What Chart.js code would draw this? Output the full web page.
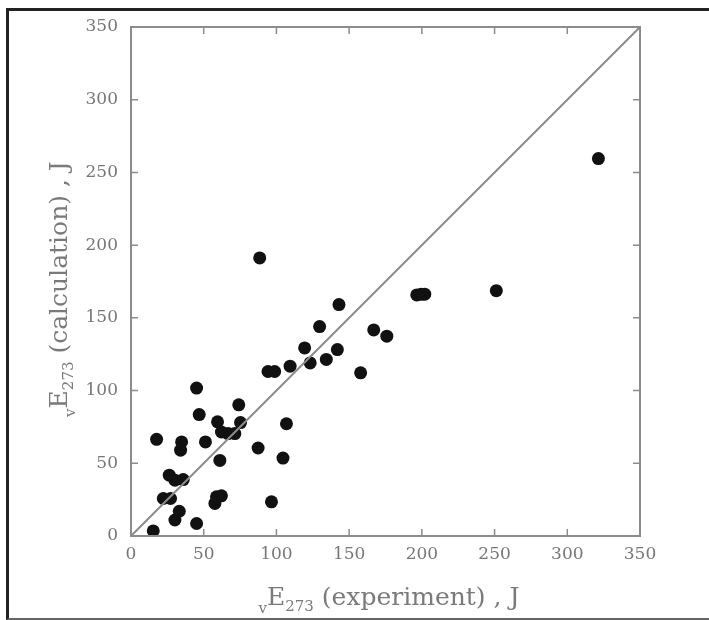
<!DOCTYPE html>
<html>
<head>
<meta charset="utf-8">
<script src="https://cdn.jsdelivr.net/npm/chart.js@4"></script>
<style>
  body { margin: 0; background: #fff; }
  #wrap { position: relative; width: 709px; height: 620px; overflow: hidden; }
  #frame { position: absolute; left: 6px; top: 8px; width: 760px; height: 607px;
           border-left: 3px solid #222; border-top: 3px solid #222; border-bottom: 2px solid #666;
           pointer-events: none; }
</style>
</head>
<body>
<div id="wrap">
  <canvas id="scatterChart" width="709" height="620"></canvas>
  <div id="frame"></div>
</div>
<script>
// measured values (experiment vs calculation), J
var expX = [15.3, 17.6, 22.2, 26.3, 27.2, 30.2, 30.2, 33.2, 34.1, 34.8, 35.9, 45.1, 45.1, 46.9, 51.2,
            57.7, 58.8, 59.5, 61.1, 62.2, 62.2, 66.8, 71.4, 74.1, 75.3, 87.4, 88.5, 94.2, 98.8, 96.6,
            104.5, 106.9, 109.4, 119.4, 123.2, 129.7, 134.3, 141.9, 143, 157.9, 166.9, 175.9,
            196.5, 199.5, 202, 251.2, 321.4];
var calcY = [3.5, 66.5, 25.8, 41.8, 25.8, 38.4, 11, 17, 59, 64.7, 38.8, 101.7, 8.6, 83.5, 64.7,
             22.4, 27, 78.5, 52, 71.5, 27.6, 70.4, 70.4, 90.2, 78, 60.5, 191.2, 113.1, 113.1, 23.5,
             53.6, 77.2, 116.8, 129.3, 119, 144, 121.4, 128.2, 159.1, 112.2, 141.7, 137.4,
             165.8, 166.2, 166.3, 168.7, 259.5];

// y = x reference line
var lineX = [0, 350];
var lineY = [0, 350];

var tickValues = [0, 50, 100, 150, 200, 250, 300, 350];

var points = expX.map(function(x, i) { return {x: x, y: calcY[i]}; });
var linePts = lineX.map(function(x, i) { return {x: x, y: lineY[i]}; });

var axisGray = '#8c8c8c';
var serif = "'DejaVu Serif', 'Liberation Serif', serif";

// box around the plot with inward ticks on all sides
var boxPlugin = {
  id: 'box',
  afterDraw: function(chart) {
    var ctx = chart.ctx, a = chart.chartArea;
    var xs = chart.scales.x, ys = chart.scales.y;
    ctx.save();
    ctx.strokeStyle = axisGray;
    ctx.lineWidth = 2;
    ctx.strokeRect(a.left, a.top, a.right - a.left, a.bottom - a.top);
    ctx.lineWidth = 1.5;
    ctx.beginPath();
    tickValues.forEach(function(v) {
      var px = xs.getPixelForValue(v);
      ctx.moveTo(px, a.bottom); ctx.lineTo(px, a.bottom - 7);
      ctx.moveTo(px, a.top); ctx.lineTo(px, a.top + 7);
      var py = ys.getPixelForValue(v);
      ctx.moveTo(a.left, py); ctx.lineTo(a.left + 7, py);
      ctx.moveTo(a.right, py); ctx.lineTo(a.right - 7, py);
    });
    ctx.stroke();
    ctx.restore();
  }
};

// axis titles with subscripts
function drawTitle(ctx, word) {
  var big = 25, small = 15;
  var parts = [
    {t: 'v', size: small, dy: 8},
    {t: 'E', size: big, dy: 0},
    {t: '273', size: small, dy: 6},
    {t: ' (' + word + ') , J', size: big, dy: 0}
  ];
  var total = 0;
  parts.forEach(function(p) {
    ctx.font = p.size + 'px ' + serif;
    p.w = ctx.measureText(p.t).width;
    total += p.w;
  });
  var x = -total / 2;
  parts.forEach(function(p) {
    ctx.font = p.size + 'px ' + serif;
    ctx.fillText(p.t, x, p.dy);
    x += p.w;
  });
}

var titlePlugin = {
  id: 'titles',
  afterDraw: function(chart) {
    var ctx = chart.ctx, a = chart.chartArea;
    ctx.save();
    ctx.fillStyle = '#7a7a7a';
    ctx.textBaseline = 'alphabetic';
    ctx.textAlign = 'left';
    ctx.translate(389, 605);
    drawTitle(ctx, 'experiment');
    ctx.restore();

    ctx.save();
    ctx.fillStyle = '#7a7a7a';
    ctx.textBaseline = 'alphabetic';
    ctx.textAlign = 'left';
    ctx.translate(67, 289);
    ctx.rotate(-Math.PI / 2);
    drawTitle(ctx, 'calculation');
    ctx.restore();
  }
};

var ctx = document.getElementById('scatterChart');

var myChart = new Chart(ctx, {
  type: 'scatter',
  data: {
    datasets: [{
      type: 'line',
      data: linePts,
      borderColor: axisGray,
      borderWidth: 2,
      pointRadius: 0,
      fill: false
    }, {
      data: points,
      backgroundColor: '#111',
      borderWidth: 0,
      pointRadius: 6.5,
      pointHoverRadius: 6.5
    }]
  },
  options: {
    responsive: false,
    animation: false,
    devicePixelRatio: 1,
    layout: { padding: { left: 0, top: 27, right: 69, bottom: 0 } },
    plugins: {
      legend: { display: false },
      tooltip: { enabled: false }
    },
    scales: {
      x: {
        type: 'linear',
        min: 0,
        max: 350,
        afterBuildTicks: function(scale) {
          scale.ticks = tickValues.map(function(v) { return {value: v}; });
        },
        afterFit: function(scale) { scale.height = 84; },
        ticks: { color: '#777', font: { family: serif, size: 17 }, padding: 8, maxRotation: 0 },
        grid: { drawOnChartArea: false, drawTicks: false },
        border: { color: axisGray, width: 2 }
      },
      y: {
        type: 'linear',
        min: 0,
        max: 350,
        afterBuildTicks: function(scale) {
          scale.ticks = tickValues.map(function(v) { return {value: v}; });
        },
        afterFit: function(scale) { scale.width = 131; },
        ticks: { color: '#777', font: { family: serif, size: 17 }, padding: 13 },
        grid: { drawOnChartArea: false, drawTicks: false },
        border: { color: axisGray, width: 2 }
      }
    }
  },
  plugins: [boxPlugin, titlePlugin]
});
</script>
</body>
</html>
